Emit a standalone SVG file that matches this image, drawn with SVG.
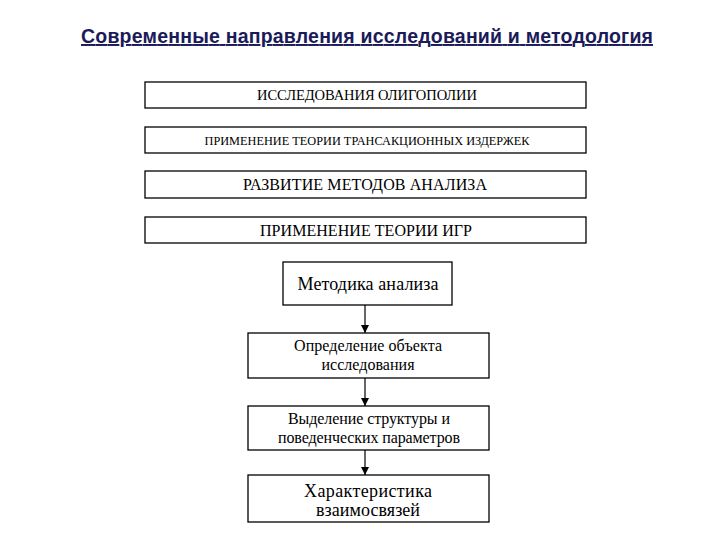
<svg xmlns="http://www.w3.org/2000/svg" width="720" height="540" viewBox="0 0 720 540">
<style>
.box{fill:#fff;stroke:#000;stroke-width:1.3}
.t{font-family:"Liberation Serif","Times New Roman",serif;fill:#000;text-anchor:middle}
.s13{font-size:13.5px}
.s14{font-size:14.5px}
.s16{font-size:16px}
.s18{font-size:18px}
.title{font-family:"Liberation Sans",Arial,sans-serif;font-size:19.5px;font-weight:bold;fill:#1b1b5a;text-decoration:underline}
.conn{stroke:#000;stroke-width:1.2;fill:none}
</style>
<defs>
<marker id="ah" viewBox="0 0 10 10" refX="10" refY="5" markerWidth="8" markerHeight="8" markerUnits="userSpaceOnUse" orient="auto">
<path d="M0,0 L10,5 L0,10 z" fill="#000"/>
</marker>
</defs>
<rect width="720" height="540" fill="#fff"/>
<text class="title" x="367" y="43" text-anchor="middle" textLength="572">Современные направления исследований и методология</text>
<g id="n1"><rect class="box" x="145" y="82" width="441" height="26"/><text class="t s14" x="367" y="100" textLength="220">ИССЛЕДОВАНИЯ ОЛИГОПОЛИИ</text></g>
<g id="n2"><rect class="box" x="145" y="127" width="441" height="26"/><text class="t s13" x="367" y="145" textLength="325" lengthAdjust="spacingAndGlyphs">ПРИМЕНЕНИЕ ТЕОРИИ ТРАНСАКЦИОННЫХ ИЗДЕРЖЕК</text></g>
<g id="n3"><rect class="box" x="145" y="171" width="441" height="27"/><text class="t s16" x="365" y="190" textLength="244">РАЗВИТИЕ МЕТОДОВ АНАЛИЗА</text></g>
<g id="n4"><rect class="box" x="145" y="217" width="441" height="26"/><text class="t s16" x="366" y="236" textLength="212">ПРИМЕНЕНИЕ ТЕОРИИ ИГР</text></g>
<g id="n5"><rect class="box" x="283" y="262" width="169" height="43"/><text class="t s18" x="368" y="290" textLength="141">Методика анализа</text></g>
<g id="n6"><rect class="box" x="248" y="333" width="241" height="45"/><text class="t s16" x="368" y="351" textLength="148">Определение объекта</text><text class="t s16" x="368" y="370" textLength="93">исследования</text></g>
<g id="n7"><rect class="box" x="248" y="406" width="241" height="44"/><text class="t s16" x="369" y="424" textLength="162">Выделение структуры и</text><text class="t s16" x="369" y="443" textLength="182">поведенческих параметров</text></g>
<g id="n8"><rect class="box" x="248" y="475" width="241" height="47"/><text class="t s18" x="368" y="497" textLength="128">Характеристика</text><text class="t s18" x="368" y="516" textLength="104">взаимосвязей</text></g>
<g id="connectors">
<line class="conn" x1="365" y1="305" x2="365" y2="333" marker-end="url(#ah)"/>
<line class="conn" x1="365" y1="378" x2="365" y2="406" marker-end="url(#ah)"/>
<line class="conn" x1="365" y1="450" x2="365" y2="475" marker-end="url(#ah)"/>
</g>
</svg>
